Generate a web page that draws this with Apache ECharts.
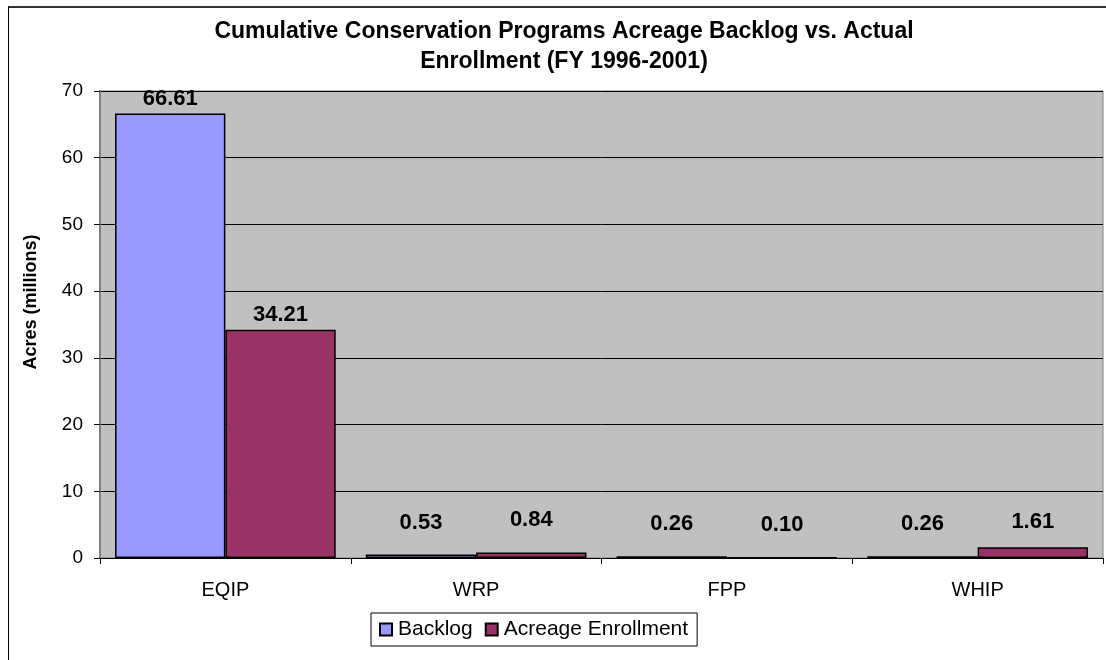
<!DOCTYPE html>
<html>
<head>
<meta charset="utf-8">
<script src="https://cdn.jsdelivr.net/npm/echarts@6/dist/echarts.min.js"></script>
<style>
  html, body { margin: 0; padding: 0; background: #fff; }
  #frame { position: absolute; left: 8px; top: 6px; width: 1110px; height: 670px; border-left: 1px solid #000; border-top: 2px solid #333; }
  #chart { position: absolute; left: 0; top: 0; width: 1106px; height: 660px; }
</style>
</head>
<body>
<div id="frame"></div>
<div id="chart"></div>
<script>
// categories and values
var programs = ['EQIP', 'WRP', 'FPP', 'WHIP'];
var backlog = [66.61, 0.53, 0.26, 0.26];
var enrollment = [34.21, 0.84, 0.10, 1.61];
var yTicks = [0, 10, 20, 30, 40, 50, 60, 70];

var font = 'Arial, "Liberation Sans", sans-serif';

function withLabels(arr) {
    // small bars carry their label a bit higher, as in the source
    return arr.map(function (v) {
        var d = v < 1 ? 21 : (v < 5 ? 14 : 4);
        return { value: v, label: { distance: d } };
    });
}

var barLabel = {
    show: true, position: 'top',
    formatter: function (p) { return p.value.toFixed(2); },
    fontFamily: font, fontSize: 22, fontWeight: 'bold', color: '#000'
};

var chart = echarts.init(document.getElementById('chart'));
var option = {
    animation: false,
    title: {
        text: 'Cumulative Conservation Programs Acreage Backlog vs. Actual\nEnrollment (FY 1996-2001)',
        left: 559,
        top: 12,
        textAlign: 'center',
        textStyle: { fontFamily: font, fontSize: 23, fontWeight: 'bold', color: '#000', lineHeight: 30 }
    },
    legend: {
        data: ['Backlog', 'Acreage Enrollment'],
        left: 371,
        top: 613,
        padding: [6, 9, 6, 8],
        itemGap: 12,
        itemWidth: 12,
        itemHeight: 12,
        icon: 'rect',
        borderColor: '#000',
        borderWidth: 1,
        textStyle: { fontFamily: font, fontSize: 21, color: '#000', padding: [0, 0, 0, 1] }
    },
    graphic: [{
        type: 'text',
        x: 31,
        y: 302,
        rotation: Math.PI / 2,
        style: {
            text: 'Acres (millions)',
            font: 'bold 18px ' + font,
            fill: '#000',
            textAlign: 'center',
            textVerticalAlign: 'middle'
        }
    }],
    grid: {
        left: 100, right: 3, top: 91, bottom: 102,
        show: true, backgroundColor: '#C0C0C0', borderColor: '#808080', borderWidth: 1
    },
    xAxis: {
        type: 'category',
        data: programs,
        axisLine: { lineStyle: { color: '#000', width: 1 } },
        axisTick: { show: true, length: 6, lineStyle: { color: '#000' } },
        axisLabel: { fontFamily: font, fontSize: 20, color: '#000', margin: 22 }
    },
    yAxis: {
        type: 'value',
        min: yTicks[0],
        max: yTicks[yTicks.length - 1],
        interval: 10,
        axisLine: { show: true, lineStyle: { color: '#808080', width: 2 } },
        axisTick: { show: true, length: 6, lineStyle: { color: '#000' } },
        axisLabel: { fontFamily: font, fontSize: 19, color: '#000', margin: 17 },
        splitLine: { show: true, lineStyle: { color: '#000', width: 1 } }
    },
    series: [{
        name: 'Backlog',
        type: 'bar',
        data: withLabels(backlog),
        barGap: '0%',
        barCategoryGap: '12%',
        itemStyle: { color: '#9999FF', borderColor: '#000', borderWidth: 1.5 },
        label: barLabel
    }, {
        name: 'Acreage Enrollment',
        type: 'bar',
        data: withLabels(enrollment),
        barGap: '0%',
        barCategoryGap: '12%',
        itemStyle: { color: '#993366', borderColor: '#000', borderWidth: 1.5 },
        label: barLabel
    }]
};
chart.setOption(option);
</script>
</body>
</html>
